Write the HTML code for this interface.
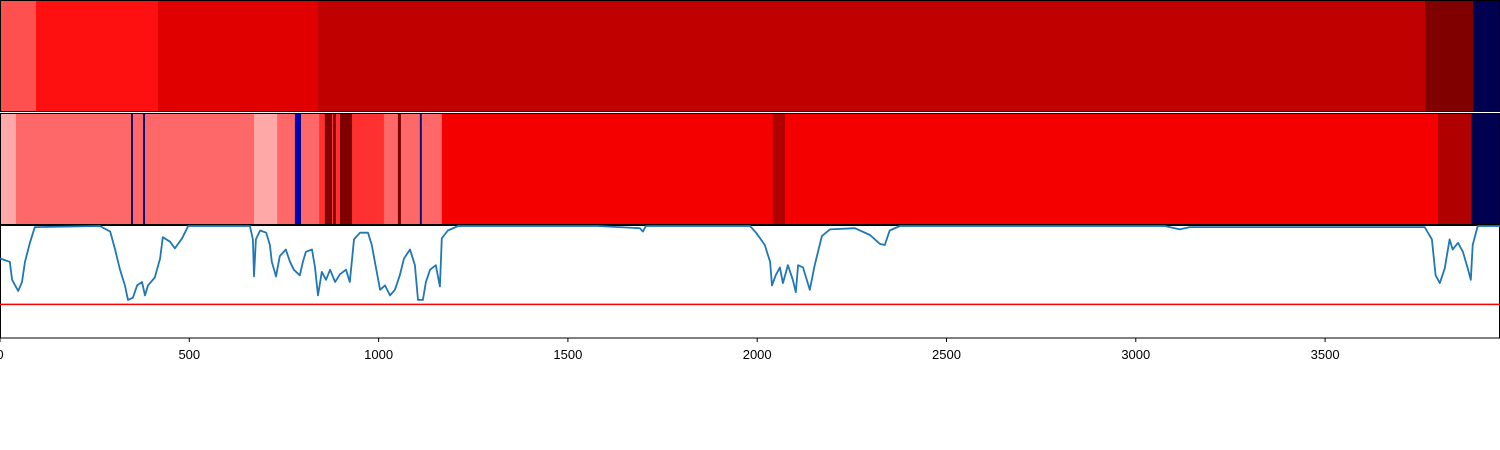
<!DOCTYPE html>
<html><head><meta charset="utf-8"><style>
body{margin:0;background:#fff;width:1500px;height:450px;overflow:hidden}
svg{display:block;font-family:"Liberation Sans","DejaVu Sans",sans-serif}
</style></head><body>
<svg id="chart" width="1500" height="450">
<g id="p1"></g>
<g id="p2"></g>
<g id="p3"></g>
<g id="ax"></g>
</svg>
<script>
const strip1Starts=[0,95,417,840,3764,3891];
const strip1Colors=["#ff5050","#ff1010","#e00000","#c00000","#800000","#000050"];
const strip2Starts=[0,42,346,351,378,383,671,732,779,792,795,843,858,877,880,887,898,930,1014,1051,1059,1109,1114,1167,2041,2073,3798,3887];
const strip2Colors=["#ffa8a8","#ff6868","#000070","#ff6868","#000070","#ff6868","#ffa8a8","#ff6868","#0000c0","#000070","#ff6868","#ff3030","#800000","#ff3030","#800000","#ff3030","#800000","#ff3030","#ff6868","#800000","#ff6868","#000070","#ff6868","#f50000","#b00000","#f50000","#b00000","#000050"];
const xMax=3962;
const lineX=[0,26,32,48,58,66,79,92,264,291,304,317,330,338,351,362,375,383,391,409,423,430,449,462,481,497,660,668,671,676,687,703,713,718,729,739,755,766,776,792,800,808,824,832,840,850,861,872,885,898,914,924,935,951,972,982,993,1004,1017,1030,1043,1056,1067,1083,1096,1104,1117,1125,1136,1151,1162,1167,1183,1210,1579,1690,1698,1706,1981,1997,2020,2034,2039,2049,2060,2068,2081,2094,2102,2108,2121,2139,2152,2171,2192,2258,2298,2324,2337,2350,2377,3077,3116,3143,3763,3782,3792,3803,3816,3829,3837,3851,3864,3877,3885,3890,3903,3962];
const lineY=[.71,.68,.52,.42,.5,.68,.85,.99,1,.95,.79,.61,.47,.34,.36,.47,.5,.38,.47,.54,.71,.9,.86,.8,.89,1,1,.88,.55,.88,.96,.94,.83,.68,.55,.73,.79,.68,.61,.56,.68,.77,.79,.63,.38,.59,.52,.61,.5,.57,.61,.5,.88,.94,.94,.83,.63,.43,.47,.38,.43,.56,.71,.79,.65,.34,.34,.5,.61,.65,.46,.89,.96,1,1,.98,.95,1,1,.94,.83,.68,.47,.56,.63,.49,.65,.52,.41,.65,.63,.43,.65,.91,.97,.98,.92,.84,.83,.96,1,1,.97,.99,.99,.88,.56,.49,.62,.88,.79,.85,.77,.62,.52,.83,1,1];
const threshold=0.3;
const xTicks=[0,500,1000,1500,2000,2500,3000,3500];
const NS="http://www.w3.org/2000/svg";
const W=1500;
const sx=v=>v/xMax*W;
function mk(t,a,p){const e=document.createElementNS(NS,t);for(const k in a)e.setAttribute(k,a[k]);p.appendChild(e);return e;}
function strip(g,starts,cols,y0,h,name){
  starts.forEach((s,i)=>{const e=i+1<starts.length?starts[i+1]:xMax;
    const r=mk("rect",{x:sx(s),y:y0,width:sx(e)-sx(s)+0.3,height:h,fill:cols[i]},g);
    
    });
  const b=mk("rect",{x:0.5,y:y0+0.5,width:W-1,height:h-1,fill:"none",stroke:"#000","stroke-width":1},g);
  
  
}
strip(document.getElementById("p1"),strip1Starts,strip1Colors,0,112,"top-strip");
strip(document.getElementById("p2"),strip2Starts,strip2Colors,113,112,"middle-strip");
const gap=mk("line",{x1:0,x2:W,y1:112.5,y2:112.5,stroke:"#fff","stroke-width":1},document.getElementById("p2"));


const p3=document.getElementById("p3");
const yTop=226,yBot=338;
const sy=v=>yBot-v*(yBot-yTop);
const fr=mk("rect",{x:0.5,y:225.5,width:W-1,height:112.5,fill:"#fff",stroke:"#000","stroke-width":1},p3);


const th=mk("line",{x1:0,x2:W,y1:sy(threshold),y2:sy(threshold),stroke:"#ff0000","stroke-width":1.5},p3);


const d=lineX.map((x,i)=>(i?"L":"M")+sx(x).toFixed(1)+","+sy(lineY[i]).toFixed(1)).join("");
const pl=mk("path",{d:d,fill:"none",stroke:"#1f77b4","stroke-width":1.8,"stroke-linejoin":"round"},p3);


const ax=document.getElementById("ax");
xTicks.forEach(t=>{
  const l=mk("line",{x1:sx(t),x2:sx(t),y1:338,y2:342,stroke:"#000","stroke-width":1},ax);
  
  
  const tx=mk("text",{x:sx(t),y:359,"text-anchor":"middle","font-size":"13px",fill:"#000"},ax);
  tx.textContent=t;
  
  
});
</script>
</body></html>
